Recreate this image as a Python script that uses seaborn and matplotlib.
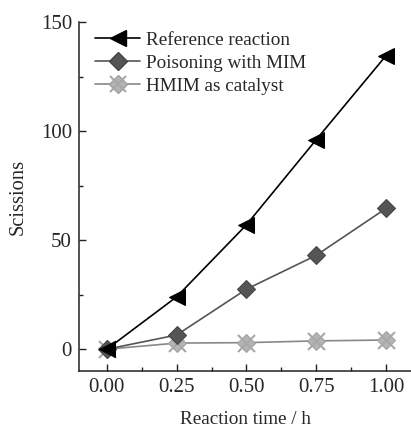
import matplotlib
matplotlib.use("Agg")
import matplotlib.pyplot as plt
import seaborn as sns
import pandas as pd
from matplotlib.lines import Line2D
from matplotlib.ticker import MultipleLocator

sns.set_style("ticks")
plt.rcParams["font.family"] = ["Liberation Serif", "DejaVu Serif"]

time_h = [0.00, 0.25, 0.50, 0.75, 1.00]
reference = [0, 24, 57, 96, 134.5]
poisoning = [0, 6.5, 27.5, 43, 64.5]
hmim = [0, 2.8, 3.0, 3.8, 4.2]

x_ticks = [0.00, 0.25, 0.50, 0.75, 1.00]
x_tick_labels = ["0.00", "0.25", "0.50", "0.75", "1.00"]
y_ticks = [0, 50, 100, 150]

fig = plt.figure(figsize=(4.11, 4.28), dpi=100)
ax = fig.add_axes([79 / 411, 57 / 428, (411 - 79) / 411, (371 - 22) / 428])

df = pd.DataFrame({"t": time_h, "ref": reference, "poi": poisoning, "hmim": hmim})

sns.lineplot(data=df, x="t", y="ref", ax=ax, color="black", lw=1.2,
             marker="<", markersize=11, markeredgecolor="black",
             markerfacecolor="black", zorder=5)
sns.lineplot(data=df, x="t", y="poi", ax=ax, color="#555555", lw=1.2,
             marker="D", markersize=9, markeredgecolor="#444444",
             markerfacecolor="#555555", zorder=4)
sns.lineplot(data=df, x="t", y="hmim", ax=ax, color="#888888", lw=1.2,
             marker="D", markersize=9, markeredgecolor="#a0a0a0",
             markerfacecolor="#b4b4b4", zorder=3)
sns.scatterplot(data=df, x="t", y="hmim", ax=ax, marker="x", s=150,
                color="#a8a8a8", linewidth=1.5, zorder=3.5)

ax.set_xlim(-0.1, 1.09)
ax.set_ylim(-10, 150)
ax.set_xticks(x_ticks)
ax.set_xticklabels(x_tick_labels)
ax.set_yticks(y_ticks)
ax.xaxis.set_minor_locator(MultipleLocator(0.125))
ax.yaxis.set_minor_locator(MultipleLocator(25))
ax.tick_params(axis="both", which="major", direction="in", length=5,
               width=1, labelsize=15, pad=5, color="#222222")
ax.tick_params(axis="both", which="minor", direction="in", length=3,
               width=1, color="#222222")

for side in ["top", "right"]:
    ax.spines[side].set_visible(False)
for side in ["left", "bottom"]:
    ax.spines[side].set_linewidth(1.1)
    ax.spines[side].set_color("#222222")

ax.set_xlabel("Reaction time / h", fontsize=13.8)
ax.set_ylabel("Scissions", fontsize=14.8)
ax.xaxis.set_label_coords(0.5, -0.115)
ax.yaxis.set_label_coords(-0.155, 0.5)

h_ref = Line2D([], [], color="black", lw=1.2, marker="<", markersize=11,
               markerfacecolor="black", markeredgecolor="black")
h_poi = Line2D([], [], color="#555555", lw=1.2, marker="D", markersize=9,
               markerfacecolor="#555555", markeredgecolor="#444444")
h_hm1 = Line2D([], [], color="#888888", lw=1.2, marker="D", markersize=9,
               markerfacecolor="#b4b4b4", markeredgecolor="#a0a0a0")
h_hm2 = Line2D([], [], color="#888888", lw=0, marker="x", markersize=11,
               markeredgecolor="#a8a8a8", markeredgewidth=1.5)
ax.legend([h_ref, h_poi, (h_hm1, h_hm2)],
          ["Reference reaction", "Poisoning with MIM", "HMIM as catalyst"],
          loc="upper left", bbox_to_anchor=(0.008, 1.012), frameon=False,
          fontsize=13.8, handlelength=2.35, handletextpad=0.3,
          labelspacing=0.3, borderaxespad=0.3)

fig.savefig("out.png", dpi=100)
